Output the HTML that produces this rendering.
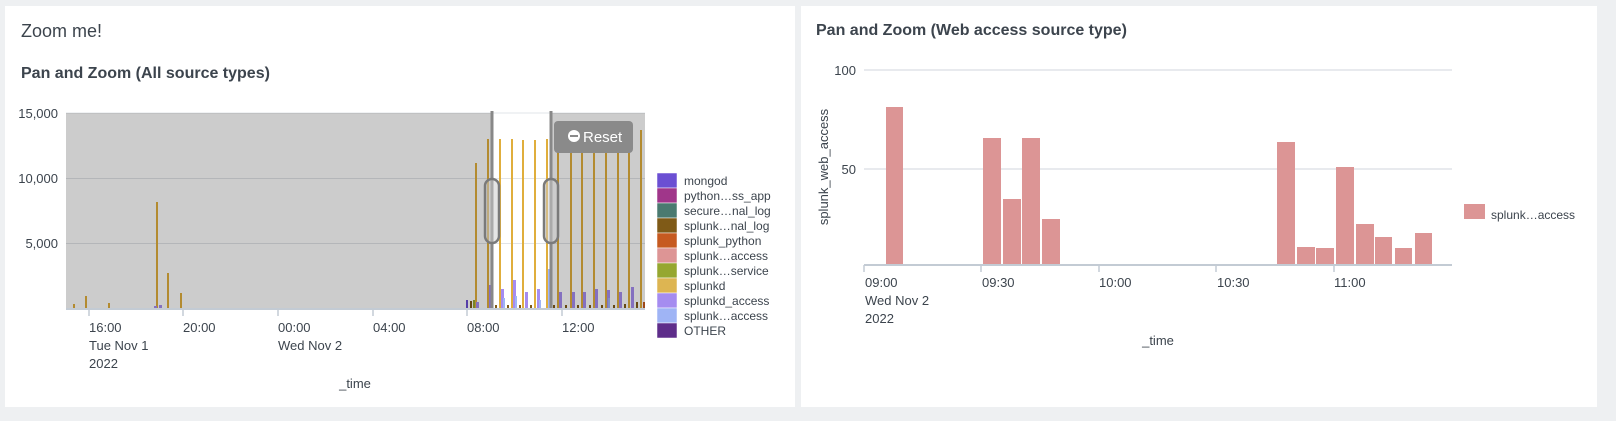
<!DOCTYPE html>
<html><head><meta charset="utf-8"><style>
html,body{margin:0;padding:0;background:#eef0f2;}
svg{display:block;font-family:"Liberation Sans",sans-serif;}
</style></head><body>
<svg width="1616" height="421" viewBox="0 0 1616 421" xmlns="http://www.w3.org/2000/svg">
<rect x="0" y="0" width="1616" height="421" fill="#eef0f2"/>
<rect x="5" y="6" width="790" height="401" fill="#fff"/>
<rect x="801" y="6" width="796" height="401" fill="#fff"/>

<text x="21" y="37" font-size="18" fill="#3c444d">Zoom me!</text>
<text x="21" y="78" font-size="16" font-weight="bold" fill="#3c444d">Pan and Zoom (All source types)</text>

<!-- left chart -->
<g stroke="#e1e4e8" stroke-width="1">
<line x1="66" y1="113" x2="645" y2="113"/>
<line x1="66" y1="178.5" x2="645" y2="178.5"/>
<line x1="66" y1="243.5" x2="645" y2="243.5"/>
</g>
<g font-size="13" fill="#3c444d" text-anchor="end">
<text x="58" y="118">15,000</text>
<text x="58" y="183">10,000</text>
<text x="58" y="248">5,000</text>
</g>
<!-- spikes -->
<g stroke="#e0ae3c" stroke-width="2">
<line x1="74" y1="309" x2="74" y2="304"/>
<line x1="86" y1="309" x2="86" y2="296"/>
<line x1="109" y1="309" x2="109" y2="303"/>
<line x1="157" y1="309" x2="157" y2="202"/>
<line x1="168" y1="309" x2="168" y2="273"/>
<line x1="181" y1="309" x2="181" y2="293"/>
<line x1="476" y1="309" x2="476" y2="163"/>
<line x1="488" y1="309" x2="488" y2="139"/>
<line x1="500" y1="309" x2="500" y2="139"/>
<line x1="512" y1="309" x2="512" y2="139"/>
<line x1="523" y1="309" x2="523" y2="140"/>
<line x1="535" y1="309" x2="535" y2="140"/>
<line x1="547" y1="309" x2="547" y2="139"/>
<line x1="558" y1="309" x2="558" y2="140"/>
<line x1="571" y1="309" x2="571" y2="140"/>
<line x1="582" y1="309" x2="582" y2="141"/>
<line x1="594" y1="309" x2="594" y2="141"/>
<line x1="606" y1="309" x2="606" y2="141"/>
<line x1="618" y1="309" x2="618" y2="141"/>
<line x1="629" y1="309" x2="629" y2="143"/>
<line x1="641" y1="309" x2="641" y2="130"/>
</g>
<g fill="#a58cf0">
<rect x="489" y="285" width="3" height="24"/>
<rect x="501" y="289" width="3" height="20"/>
<rect x="513" y="280" width="3" height="29"/>
<rect x="525" y="292" width="3" height="17"/>
<rect x="537" y="289" width="3" height="20"/>
<rect x="559" y="292" width="3" height="17"/>
<rect x="572" y="292" width="3" height="17"/>
<rect x="583" y="292" width="3" height="17"/>
<rect x="595" y="289" width="3" height="20"/>
<rect x="607" y="290" width="3" height="19"/>
<rect x="619" y="292" width="3" height="17"/>
<rect x="631" y="287" width="3" height="22"/>
<rect x="154" y="306" width="3" height="3"/>
<rect x="159" y="305" width="3" height="4"/>
<rect x="476" y="302" width="3" height="7"/>
</g>
<g fill="#9fb4f5">
<rect x="548" y="269" width="3" height="40"/>
<rect x="503" y="298" width="2" height="11"/>
<rect x="515" y="296" width="2" height="13"/>
<rect x="539" y="300" width="2" height="9"/>
<rect x="608" y="298" width="2" height="11"/>
</g>
<g fill="#7f5a17">
<rect x="470" y="301" width="2" height="8"/><rect x="495" y="305" width="2" height="4"/><rect x="507" y="305" width="2" height="4"/>
<rect x="519" y="305" width="2" height="4"/><rect x="530" y="305" width="2" height="4"/><rect x="553" y="305" width="2" height="4"/>
<rect x="565" y="305" width="2" height="4"/><rect x="577" y="305" width="2" height="4"/><rect x="589" y="305" width="2" height="4"/>
<rect x="601" y="305" width="2" height="4"/><rect x="613" y="305" width="2" height="4"/><rect x="624" y="304" width="2" height="5"/>
<rect x="636" y="302" width="2" height="7"/>
</g>
<rect x="466" y="300" width="2" height="9" fill="#6b4fd3"/>
<rect x="473" y="300" width="2" height="9" fill="#96a730"/>
<rect x="643" y="302" width="2" height="7" fill="#c65a20"/>
<!-- dim overlay -->
<rect x="66" y="113" width="426" height="196" fill="#000" fill-opacity="0.2"/>
<rect x="551" y="113" width="94" height="196" fill="#000" fill-opacity="0.2"/>
<!-- handles -->
<line x1="492" y1="111" x2="492" y2="309" stroke="#888" stroke-width="3"/>
<line x1="551" y1="111" x2="551" y2="309" stroke="#888" stroke-width="3"/>
<rect x="485" y="179" width="14" height="64" rx="7" fill="#ccc" fill-opacity="0.5" stroke="#7a7a7a" stroke-width="2.5"/>
<rect x="544" y="179" width="14" height="64" rx="7" fill="#ccc" fill-opacity="0.5" stroke="#7a7a7a" stroke-width="2.5"/>
<!-- reset -->
<rect x="554" y="121" width="79" height="32" rx="4" fill="#8a8a8a"/>
<circle cx="574" cy="136" r="6" fill="#fff"/>
<rect x="570" y="135" width="8" height="2" fill="#8a8a8a"/>
<text x="583" y="142" font-size="15" fill="#fff">Reset</text>
<!-- x axis -->
<line x1="66" y1="309" x2="645" y2="309" stroke="#c3cbd4" stroke-width="2"/>
<g stroke="#c3cbd4" stroke-width="1.5">
<line x1="89" y1="309" x2="89" y2="316"/><line x1="183" y1="309" x2="183" y2="316"/>
<line x1="278" y1="309" x2="278" y2="316"/><line x1="373" y1="309" x2="373" y2="316"/>
<line x1="467" y1="309" x2="467" y2="316"/><line x1="562" y1="309" x2="562" y2="316"/>
</g>
<g font-size="13" fill="#3c444d">
<text x="89" y="332">16:00</text><text x="89" y="350">Tue Nov 1</text><text x="89" y="368">2022</text>
<text x="183" y="332">20:00</text>
<text x="278" y="332">00:00</text><text x="278" y="350">Wed Nov 2</text>
<text x="373" y="332">04:00</text>
<text x="467" y="332">08:00</text>
<text x="562" y="332">12:00</text>
<text x="355" y="388" text-anchor="middle">_time</text>
</g>
<!-- legend -->
<g stroke="#fff" stroke-width="0.5">
<rect x="657" y="173" width="20" height="15" fill="#6b4fd3"/>
<rect x="657" y="188" width="20" height="15" fill="#a0368a"/>
<rect x="657" y="203" width="20" height="15" fill="#4a7a70"/>
<rect x="657" y="218" width="20" height="15" fill="#7f5a17"/>
<rect x="657" y="233" width="20" height="15" fill="#c65a20"/>
<rect x="657" y="248" width="20" height="15" fill="#dd9595"/>
<rect x="657" y="263" width="20" height="15" fill="#96a730"/>
<rect x="657" y="278" width="20" height="15" fill="#ddb552"/>
<rect x="657" y="293" width="20" height="15" fill="#a58cf0"/>
<rect x="657" y="308" width="20" height="15" fill="#9fb4f5"/>
<rect x="657" y="323" width="20" height="15" fill="#5e2d8a"/>
</g>
<g font-size="12" fill="#3c444d">
<text x="684" y="185">mongod</text>
<text x="684" y="200">python…ss_app</text>
<text x="684" y="215">secure…nal_log</text>
<text x="684" y="230">splunk…nal_log</text>
<text x="684" y="245">splunk_python</text>
<text x="684" y="260">splunk…access</text>
<text x="684" y="275">splunk…service</text>
<text x="684" y="290">splunkd</text>
<text x="684" y="305">splunkd_access</text>
<text x="684" y="320">splunk…access</text>
<text x="684" y="335">OTHER</text>
</g>

<!-- right panel -->
<text x="816" y="35" font-size="16" font-weight="bold" fill="#3c444d">Pan and Zoom (Web access source type)</text>
<g stroke="#e1e4e8" stroke-width="1.5">
<line x1="864" y1="70" x2="1452" y2="70"/>
<line x1="864" y1="169" x2="1452" y2="169"/>
</g>
<g font-size="13" fill="#3c444d" text-anchor="end">
<text x="856" y="75">100</text>
<text x="856" y="174">50</text>
</g>
<text transform="translate(828,167) rotate(-90)" font-size="13" fill="#3c444d" text-anchor="middle">splunk_web_access</text>
<g fill="#dc9595">
<rect x="886" y="107" width="17" height="158"/>
<rect x="983" y="138" width="18" height="127"/>
<rect x="1003" y="199" width="18" height="66"/>
<rect x="1022" y="138" width="18" height="127"/>
<rect x="1042" y="219" width="18" height="46"/>
<rect x="1277" y="142" width="18" height="123"/>
<rect x="1297" y="247" width="18" height="18"/>
<rect x="1316" y="248" width="18" height="17"/>
<rect x="1336" y="167" width="18" height="98"/>
<rect x="1356" y="224" width="18" height="41"/>
<rect x="1375" y="237" width="17" height="28"/>
<rect x="1395" y="248" width="17" height="17"/>
<rect x="1415" y="233" width="17" height="32"/>
</g>
<line x1="864" y1="265" x2="1452" y2="265" stroke="#c3cbd4" stroke-width="2"/>
<g stroke="#c3cbd4" stroke-width="1.5">
<line x1="864" y1="265" x2="864" y2="272"/><line x1="981" y1="265" x2="981" y2="272"/>
<line x1="1099" y1="265" x2="1099" y2="272"/><line x1="1216" y1="265" x2="1216" y2="272"/>
<line x1="1334" y1="265" x2="1334" y2="272"/>
</g>
<g font-size="13" fill="#3c444d">
<text x="865" y="287">09:00</text><text x="865" y="305">Wed Nov 2</text><text x="865" y="323">2022</text>
<text x="982" y="287">09:30</text>
<text x="1099" y="287">10:00</text>
<text x="1217" y="287">10:30</text>
<text x="1334" y="287">11:00</text>
<text x="1158" y="345" text-anchor="middle">_time</text>
</g>
<rect x="1464" y="204" width="21" height="15" fill="#dc9595"/>
<text x="1491" y="219" font-size="12" fill="#3c444d">splunk…access</text>
</svg>
</body></html>
